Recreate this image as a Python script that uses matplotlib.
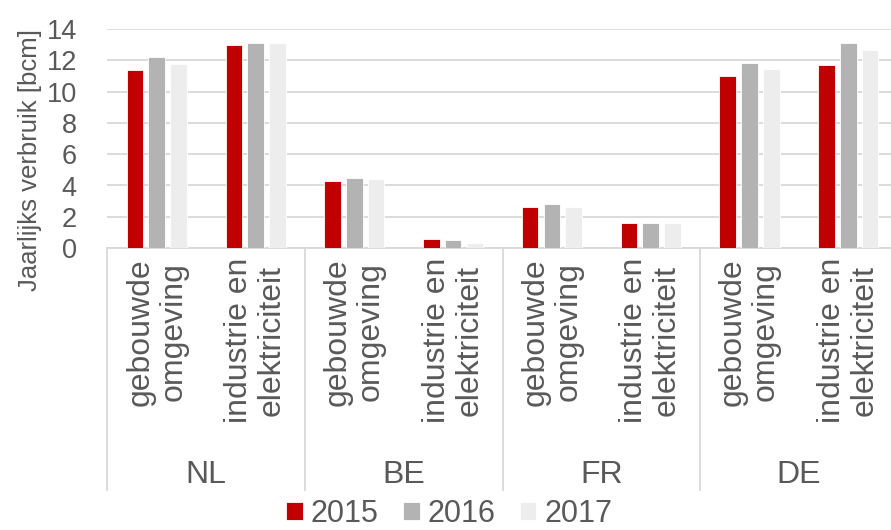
import matplotlib
matplotlib.use("Agg")
import matplotlib.pyplot as plt
import matplotlib.transforms as mtransforms
import numpy as np

plt.rcParams['font.family'] = ['Liberation Sans', 'DejaVu Sans']

# data
countries = ['NL', 'BE', 'FR', 'DE']
sectors = ['gebouwde\nomgeving', 'industrie en\nelektriciteit']
years = ['2015', '2016', '2017']
v2015 = [11.4, 13.0, 4.3, 0.6, 2.65, 1.6, 11.0, 11.7]
v2016 = [12.2, 13.1, 4.45, 0.5, 2.8, 1.6, 11.85, 13.1]
v2017 = [11.75, 13.1, 4.4, 0.35, 2.65, 1.6, 11.45, 12.65]
colors = ['#C00000', '#B3B3B3', '#EDEDED']

txt = '#595959'
grid = '#D9D9D9'

fig = plt.figure(figsize=(8.91, 5.30), dpi=100)
ax = fig.add_axes([0.1205, 0.532, 0.887, 0.413])

x = np.arange(len(v2015))
w = 0.168
step = 0.22
for i, (vals, c, lab) in enumerate(zip([v2015, v2016, v2017], colors, years)):
    ax.bar(x + (i - 1) * step, vals, w, color=c, edgecolor='white',
           linewidth=0.6, label=lab, zorder=3)

ax.set_xlim(-0.5, len(x) - 0.5)
ax.set_ylim(0, 14)
ax.set_yticks(range(0, 15, 2))
ax.grid(axis='y', color=grid, linewidth=1.3, zorder=0)
ax.tick_params(axis='y', length=0, pad=22, labelsize=19.5, labelcolor=txt)
ax.set_xticks([])
for s in ['left', 'right', 'top']:
    ax.spines[s].set_visible(False)
ax.spines['bottom'].set_color(grid)
ax.spines['bottom'].set_linewidth(1.3)

ax.set_ylabel('Jaarlijks verbruik [bcm]', fontsize=18.5, color=txt)
ax.yaxis.set_label_coords(-0.083, 0.40)

# category axis below
trans = mtransforms.blended_transform_factory(ax.transData, ax.transAxes)
for k in range(len(countries) + 1):
    ax.plot([k * 2 - 0.5] * 2, [0, -1.105], transform=trans, color=grid,
            linewidth=1.3, clip_on=False)
for j in range(len(x)):
    ax.text(j, -0.045, sectors[j % 2], transform=trans, rotation=90,
            ha='center', va='top', multialignment='center',
            fontsize=23, color=txt, linespacing=1.12)
for k, c in enumerate(countries):
    ax.text(k * 2 + 0.5, -1.035, c, transform=trans, ha='center',
            va='center', fontsize=23, color=txt)

fig.legend(loc='center', bbox_to_anchor=(0.504, 0.031), ncol=3, frameon=False,
           fontsize=22, labelcolor=txt, handlelength=0.55, handleheight=0.55,
           handletextpad=0.25, columnspacing=0.8, borderpad=0)

fig.savefig('out.png', dpi=100)
